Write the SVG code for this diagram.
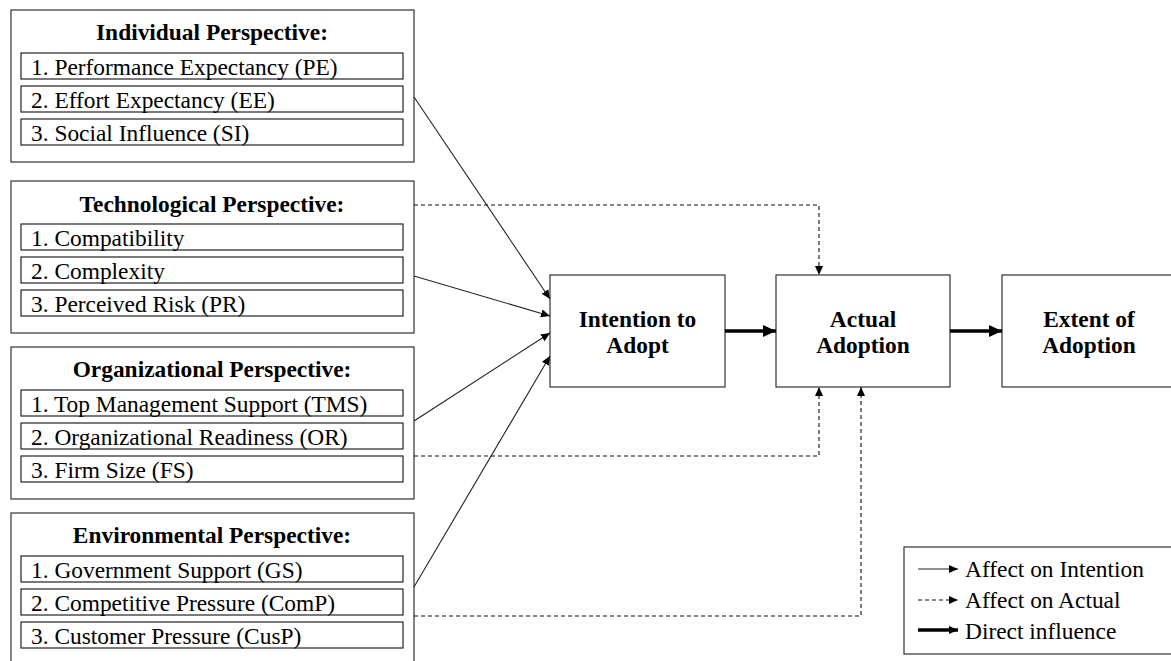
<svg xmlns="http://www.w3.org/2000/svg" width="1171" height="661" viewBox="0 0 1171 661">
<style>
.box{fill:#fff;stroke:#333;stroke-width:1.2}
.item{fill:#fff;stroke:#222;stroke-width:1.2}
.t{font-family:"Liberation Serif","Times New Roman",serif;font-size:23.4px;fill:#000}
.b{font-weight:bold}
.thin{fill:none;stroke:#222;stroke-width:1.1}
.dash{fill:none;stroke:#111;stroke-width:1.1;stroke-dasharray:4 3}
.thick{fill:none;stroke:#000;stroke-width:3.5}
</style>
<defs>
<marker id="ah" markerUnits="userSpaceOnUse" markerWidth="10" markerHeight="10" refX="9" refY="5" orient="auto">
<path d="M0,1 L9,5 L0,9 Z" fill="#000"/>
</marker>
<marker id="ahb" markerUnits="userSpaceOnUse" markerWidth="14" markerHeight="14" refX="13" refY="7" orient="auto">
<path d="M0,1 L13,7 L0,13 Z" fill="#000"/>
</marker>
</defs>
<rect width="1171" height="661" fill="#fff"/>

<g id="individual">
<rect class="box" x="11" y="10" width="403" height="152"/>
<text class="t b" x="212" y="40" text-anchor="middle">Individual Perspective:</text>
<rect class="item" x="21" y="53" width="382" height="26"/>
<text class="t" x="31" y="75">1. Performance Expectancy (PE)</text>
<rect class="item" x="21" y="86" width="382" height="26"/>
<text class="t" x="31" y="108">2. Effort Expectancy (EE)</text>
<rect class="item" x="21" y="119" width="382" height="26"/>
<text class="t" x="31" y="141">3. Social Influence (SI)</text>
</g>

<g id="technological">
<rect class="box" x="11" y="181" width="403" height="152"/>
<text class="t b" x="212" y="212" text-anchor="middle">Technological Perspective:</text>
<rect class="item" x="21" y="224" width="382" height="26"/>
<text class="t" x="31" y="246">1. Compatibility</text>
<rect class="item" x="21" y="257" width="382" height="26"/>
<text class="t" x="31" y="279">2. Complexity</text>
<rect class="item" x="21" y="290" width="382" height="26"/>
<text class="t" x="31" y="312">3. Perceived Risk (PR)</text>
</g>

<g id="organizational">
<rect class="box" x="11" y="347" width="403" height="152"/>
<text class="t b" x="212" y="377" text-anchor="middle">Organizational Perspective:</text>
<rect class="item" x="21" y="390" width="382" height="26"/>
<text class="t" x="31" y="412">1. Top Management Support (TMS)</text>
<rect class="item" x="21" y="423" width="382" height="26"/>
<text class="t" x="31" y="445">2. Organizational Readiness (OR)</text>
<rect class="item" x="21" y="456" width="382" height="26"/>
<text class="t" x="31" y="478">3. Firm Size (FS)</text>
</g>

<g id="environmental">
<rect class="box" x="11" y="513" width="403" height="152"/>
<text class="t b" x="212" y="543" text-anchor="middle">Environmental Perspective:</text>
<rect class="item" x="21" y="556" width="382" height="26"/>
<text class="t" x="31" y="578">1. Government Support (GS)</text>
<rect class="item" x="21" y="589" width="382" height="26"/>
<text class="t" x="31" y="611">2. Competitive Pressure (ComP)</text>
<rect class="item" x="21" y="622" width="382" height="26"/>
<text class="t" x="31" y="644">3. Customer Pressure (CusP)</text>
</g>

<g id="intention">
<rect class="box" x="550" y="275" width="175" height="112"/>
<text class="t b" x="637.5" y="327" text-anchor="middle">Intention to</text>
<text class="t b" x="637.5" y="353" text-anchor="middle">Adopt</text>
</g>

<g id="actual">
<rect class="box" x="776" y="275" width="174" height="112"/>
<text class="t b" x="863" y="327" text-anchor="middle">Actual</text>
<text class="t b" x="863" y="353" text-anchor="middle">Adoption</text>
</g>

<g id="extent">
<rect class="box" x="1002" y="275" width="175" height="112"/>
<text class="t b" x="1089" y="327" text-anchor="middle">Extent of</text>
<text class="t b" x="1089" y="353" text-anchor="middle">Adoption</text>
</g>

<g id="connectors">
<line class="thin" x1="414" y1="97" x2="550" y2="299" marker-end="url(#ah)"/>
<line class="thin" x1="414" y1="276" x2="550" y2="316" marker-end="url(#ah)"/>
<line class="thin" x1="414" y1="421" x2="550" y2="333" marker-end="url(#ah)"/>
<line class="thin" x1="414" y1="587" x2="550" y2="356" marker-end="url(#ah)"/>
<polyline class="dash" points="414,205 819,205 819,275" marker-end="url(#ah)"/>
<polyline class="dash" points="414,456 819,456 819,387" marker-end="url(#ah)"/>
<polyline class="dash" points="414,616 861,616 861,387" marker-end="url(#ah)"/>
<line class="thick" x1="725" y1="331" x2="776" y2="331" marker-end="url(#ahb)"/>
<line class="thick" x1="950" y1="331" x2="1002" y2="331" marker-end="url(#ahb)"/>
</g>

<g id="legend">
<rect class="box" x="904" y="547" width="270" height="107"/>
<line class="thin" x1="918" y1="569" x2="958" y2="569" marker-end="url(#ah)"/>
<text class="t" x="965" y="577">Affect on Intention</text>
<line class="dash" x1="918" y1="600" x2="958" y2="600" marker-end="url(#ah)"/>
<text class="t" x="965" y="608">Affect on Actual</text>
<line class="thick" x1="918" y1="630" x2="958" y2="630" stroke-width="2.5" marker-end="url(#ah)"/>
<text class="t" x="965" y="639">Direct influence</text>
</g>
</svg>
